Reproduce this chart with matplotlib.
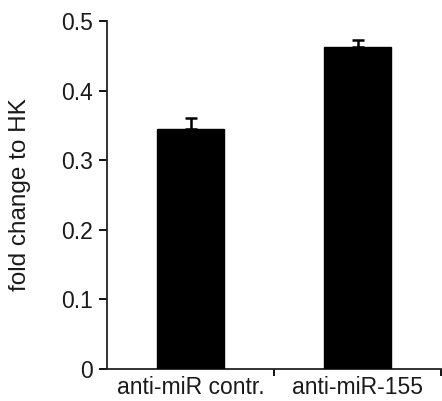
import matplotlib
matplotlib.use("Agg")
import matplotlib.pyplot as plt

plt.rcParams['font.family'] = ['Liberation Sans', 'DejaVu Sans']

# data
groups = ['anti-miR contr.', 'anti-miR-155']
fold_change = [0.345, 0.463]
sem = [0.016, 0.010]
yticks = [0, 0.1, 0.2, 0.3, 0.4, 0.5]
ytick_labels = ['0', '0.1', '0.2', '0.3', '0.4', '0.5']

fig = plt.figure(figsize=(4.42, 4.01), dpi=100)
ax = fig.add_axes([107 / 442, 1 - 369 / 401, 334 / 442, 348 / 401])

x = list(range(len(groups)))
ax.bar(x, fold_change, width=0.4, color='black', edgecolor='black', zorder=3)
ax.errorbar(x, fold_change, yerr=[[0] * len(sem), sem], fmt='none',
            ecolor='black', elinewidth=1.8, capsize=4, capthick=1.8, zorder=2)

ax.set_xlim(-0.5, 1.5)
ax.set_ylim(0, 0.5)
ax.set_yticks(yticks)
ax.set_yticklabels(ytick_labels)

# category labels centred, ticks between categories (excel style)
ax.set_xticks(x)
ax.set_xticklabels(groups)
ax.set_xticks([0.5, 1.5], minor=True)
ax.tick_params(axis='x', which='major', length=0, pad=5)
ax.tick_params(axis='x', which='minor', length=5, width=1.3, direction='out')
ax.tick_params(axis='y', length=6, width=1.3, direction='out', pad=4)
ax.tick_params(labelsize=16.5, labelcolor='#1a1a1a')

for side in ['top', 'right']:
    ax.spines[side].set_visible(False)
for side in ['left', 'bottom']:
    ax.spines[side].set_linewidth(1.3)
    ax.spines[side].set_color('#222222')

ax.set_ylabel('fold change to HK', fontsize=17.5, color='#1a1a1a', labelpad=22)

fig.savefig('out.png', dpi=100)
